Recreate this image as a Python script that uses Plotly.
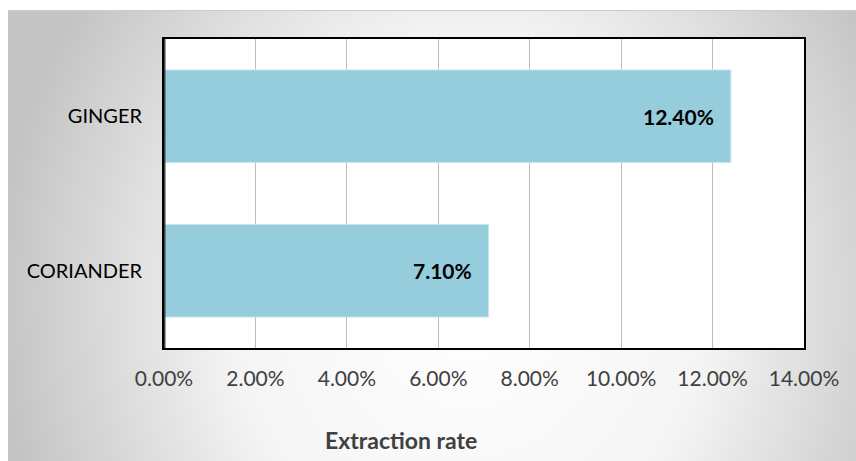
import base64
import plotly.graph_objects as go

categories = ["CORIANDER", "GINGER"]
values = [0.071, 0.124]
value_labels = ["7.10%", "12.40%"]
tick_vals = [0, 0.02, 0.04, 0.06, 0.08, 0.10, 0.12, 0.14]
tick_text = ["0.00%", "2.00%", "4.00%", "6.00%", "8.00%", "10.00%", "12.00%", "14.00%"]
x_title = "Extraction rate"

svg = """<svg xmlns='http://www.w3.org/2000/svg' width='848' height='451' viewBox='0 0 848 451' preserveAspectRatio='none'>
<defs><radialGradient id='g' cx='0' cy='0' r='1' gradientUnits='userSpaceOnUse' gradientTransform='translate(460,290) scale(470,520)'>
<stop offset='0%' stop-color='#ffffff'/><stop offset='50%' stop-color='#f5f5f5'/><stop offset='100%' stop-color='#c4c4c4'/>
</radialGradient></defs>
<rect x='0' y='0' width='848' height='451' fill='url(#g)'/>
<line x1='0' y1='0.5' x2='848' y2='0.5' stroke='#cccccc' stroke-width='1'/>
</svg>"""
src = "data:image/svg+xml;base64," + base64.b64encode(svg.encode()).decode()

font = "Lato, 'Open Sans', sans-serif"

fig = go.Figure()
fig.add_trace(go.Bar(
    y=categories, x=values, orientation="h",
    marker=dict(color="#95CDDD", line=dict(color="#c8e6ee", width=1)),
    hoverinfo="skip",
))

for c, v, t in zip(categories, values, value_labels):
    fig.add_annotation(x=v, y=c, text="<b>%s</b>" % t, xref="x", yref="y",
                       xanchor="right", yanchor="middle", xshift=-15, showarrow=False,
                       font=dict(family=font, size=21, color="#000000"))

fig.add_annotation(text="<b>%s</b>" % x_title, xref="paper", yref="paper",
                   x=(401 - 164) / 640, y=-(440 - 348) / 309, xanchor="center", yanchor="middle",
                   showarrow=False, font=dict(family=font, size=23, color="#404040"))

fig.update_layout(
    width=856, height=461,
    margin=dict(l=164, r=52, t=39, b=113),
    paper_bgcolor="white", plot_bgcolor="white",
    bargap=0.40,
    showlegend=False,
    images=[dict(source=src, xref="paper", yref="paper", x=-156/640, y=1 + 29/309,
                 sizex=848/640, sizey=451/309, xanchor="left", yanchor="top",
                 sizing="stretch", layer="below")],
    xaxis=dict(range=[0, 0.14], tickvals=tick_vals, ticktext=tick_text,
               showgrid=True, gridcolor="#bdbdbd", gridwidth=1,
               showline=True, linecolor="#000000", linewidth=2, mirror=True,
               ticks="", ticklabelstandoff=11, zeroline=False,
               tickfont=dict(family=font, size=21, color="#404040")),
    yaxis=dict(showline=True, linecolor="#000000", linewidth=2, mirror=True,
               ticks="", ticklabelstandoff=16,
               tickfont=dict(family=font, size=20, color="#000000")),
)
fig.add_shape(type="rect", xref="paper", yref="paper", x0=0, x1=1, y0=0, y1=1,
              fillcolor="white", line=dict(width=0), layer="below")
fig.add_shape(type="line", xref="x", yref="paper", x0=0, x1=0, y0=0, y1=1,
              line=dict(color="#404040", width=3))

fig.write_html("out.html")
